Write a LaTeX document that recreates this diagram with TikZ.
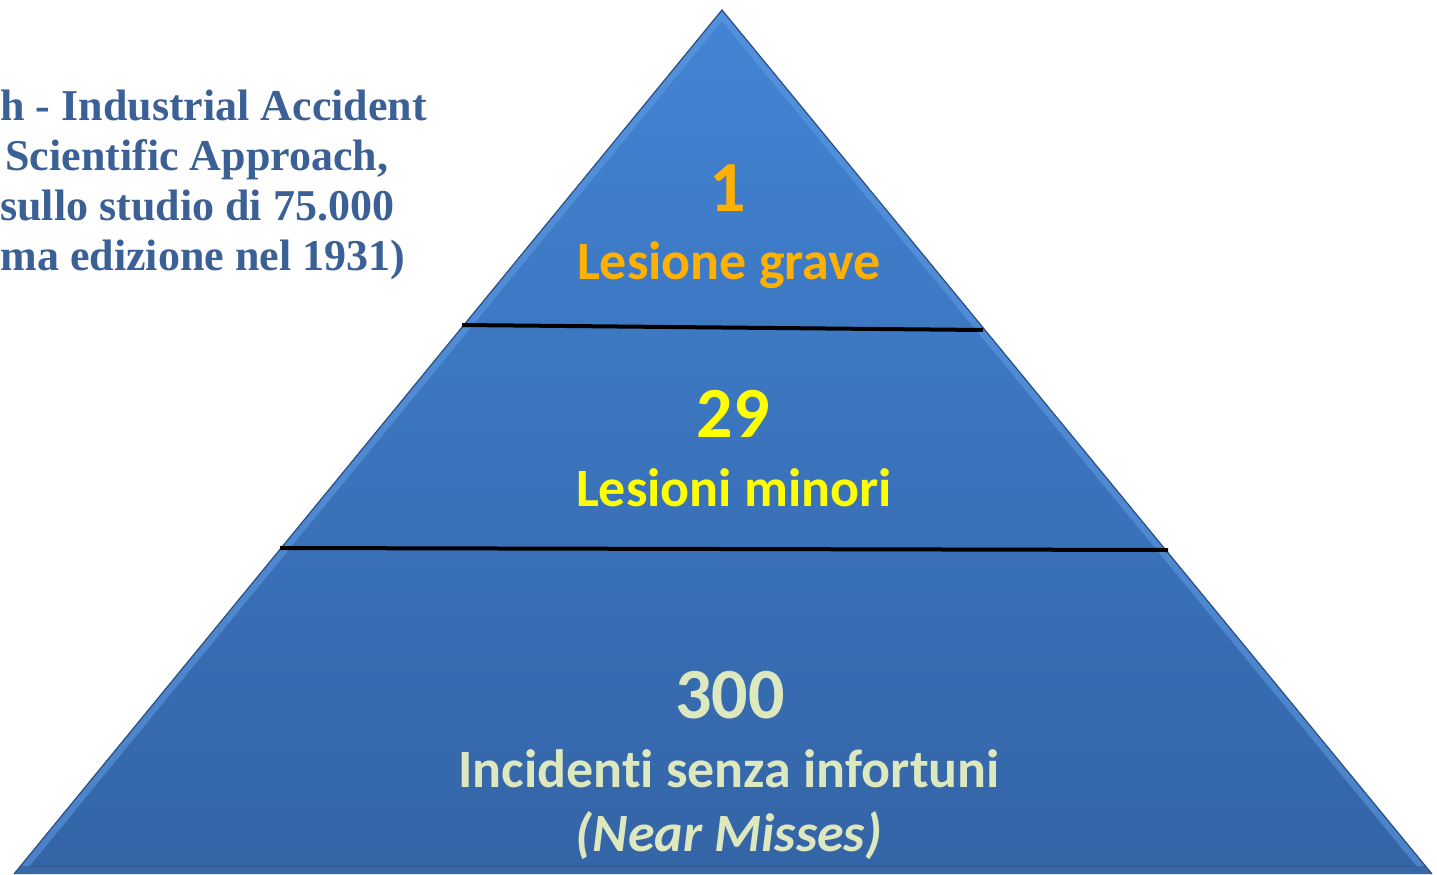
\documentclass[tikz,border=0pt]{standalone}
\usepackage{fontspec}
\setmainfont[Ligatures=NoCommon]{Carlito}
\newfontfamily\serifbold{Liberation Serif}
\definecolor{pyrtop}{RGB}{66,132,212}
\definecolor{pyrbot}{RGB}{52,100,166}
\definecolor{bevel}{RGB}{96,156,228}
\definecolor{edge}{RGB}{40,78,130}
\definecolor{lefttxt}{RGB}{58,96,150}
\definecolor{orangetxt}{RGB}{255,176,0}
\definecolor{yellowtxt}{RGB}{255,255,0}
\definecolor{paletxt}{RGB}{221,232,190}
\tikzset{
  numlabel/.style={font=\bfseries\fontsize{36}{40}\selectfont, inner sep=0pt, anchor=base},
  txtlabel/.style={font=\bfseries\fontsize{27}{30}\selectfont, inner sep=0pt, anchor=base},
  leftlabel/.style={font=\serifbold\bfseries\fontsize{22}{26}\selectfont, text=lefttxt, inner sep=0pt, anchor=base west},
  divider/.style={line width=2pt, black}
}
\begin{document}
\begin{tikzpicture}[x=0.5pt,y=-0.5pt]
\useasboundingbox (0,0) rectangle (1437,874);
% pyramid
\coordinate (apex) at (722,10);
\coordinate (bl) at (14,874);
\coordinate (br) at (1432,874);
\shade[top color=pyrtop, bottom color=pyrbot] (apex) -- (br) -- (bl) -- cycle;
\begin{scope}
  \clip (apex) -- (br) -- (bl) -- cycle;
  \draw[bevel, opacity=0.55, line width=7pt, line join=miter] (apex) -- (br) -- (bl) -- cycle;
  \fill[pyrbot!80!black, opacity=0.5] (0,866) rectangle (1437,874);
\end{scope}
\draw[edge, line width=0.6pt] (bl) -- (apex) -- (br);
% dividers
\coordinate (d1l) at (462,325);
\coordinate (d1r) at (983,330);
\coordinate (d2l) at (280,548);
\coordinate (d2r) at (1168,550);
\draw[divider] (d1l) -- (d1r);
\draw[divider] (d2l) -- (d2r);
% labels
\node[numlabel, text=orangetxt] (n1) at (728,211) {1};
\node[txtlabel, text=orangetxt] (t1) at (729,279) {Lesione grave};
\node[numlabel, text=yellowtxt] (n2) at (733,437) {29};
\node[txtlabel, text=yellowtxt] (t2) at (734,506) {Lesioni minori};
\node[numlabel, text=paletxt] (n3) at (730,718) {300};
\node[txtlabel, text=paletxt] (t3) at (729,787) {Incidenti senza infortuni};
\node[txtlabel, text=paletxt] (t4) at (729,851) {\itshape (Near Misses)};
% left text
\node[leftlabel] (l1) at (0,120) {h - Industrial Accident};
\node[leftlabel] (l2) at (5,170) {Scientific Approach,};
\node[leftlabel] (l3) at (0,220) {sullo studio di 75.000};
\node[leftlabel] (l4) at (0,270) {ma edizione nel 1931)};
\end{tikzpicture}
\end{document}
